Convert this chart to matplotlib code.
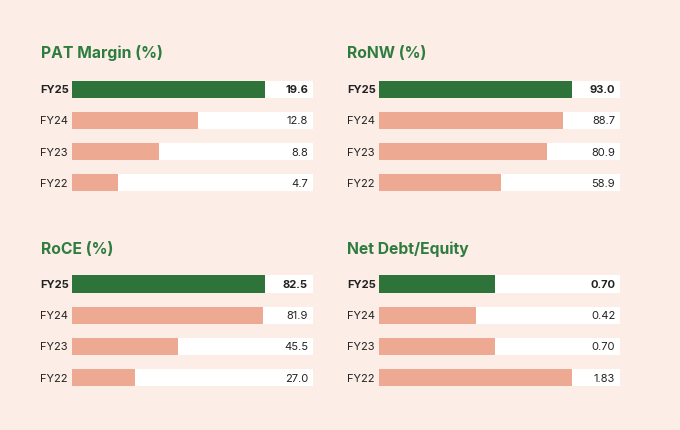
import matplotlib.pyplot as plt

years = ['FY25', 'FY24', 'FY23', 'FY22']

titles = ['PAT Margin (%)', 'RoNW (%)', 'RoCE (%)', 'Net Debt/Equity']
pat_margin = [19.6, 12.8, 8.8, 4.7]
ronw = [93.0, 88.7, 80.9, 58.9]
roce = [82.5, 81.9, 45.5, 27.0]
net_debt_equity = [0.70, 0.42, 0.70, 1.83]
labels = [['19.6', '12.8', '8.8', '4.7'],
          ['93.0', '88.7', '80.9', '58.9'],
          ['82.5', '81.9', '45.5', '27.0'],
          ['0.70', '0.42', '0.70', '1.83']]
series = [pat_margin, ronw, roce, net_debt_equity]
# axis floor per panel (the debt panel in the original does not start at zero)
floors = [0, 0, 0, -1.0]

BG = '#fcede6'
GREEN = '#2d733a'
SALMON = '#eda991'
TITLE = '#2e7d3f'
TEXT = '#222222'

plt.rcParams['font.family'] = ['Inter', 'DejaVu Sans']

W, H = 680, 431
fig = plt.figure(figsize=(W / 100, H / 100), dpi=100, facecolor=BG)

# panel boxes in pixels: left, right of track, top of first row slot
lefts = [72.3, 379.0, 72.3, 379.0]
rights = [312.7, 620.0, 312.7, 620.0]
tops = [74.6, 74.6, 269.4, 269.4]
title_y = [53, 53, 249, 249]
title_x = [40.7, 347.3, 40.7, 347.3]
slot = 31.2

for i in range(4):
    l, r, t = lefts[i], rights[i], tops[i]
    h = slot * 4
    ax = fig.add_axes([l / W, 1 - (t + h) / H, (r - l) / W, h / H])
    ax.set_facecolor('none')
    vals = series[i]
    lo = floors[i]
    hi = lo + (max(vals) - lo) * 1.25
    ax.set_xlim(lo, hi)
    ax.set_ylim(3.5, -0.5)
    ax.barh(range(4), [hi - lo] * 4, left=lo, height=0.555, color='white')
    colors = [GREEN] + [SALMON] * 3
    ax.barh(range(4), [v - lo for v in vals], left=lo, height=0.555, color=colors)
    for j in range(4):
        weight = 'bold' if j == 0 else 'normal'
        ax.text(-(l - title_x[i] + 0.3) / (r - l), j, years[j], transform=ax.get_yaxis_transform(),
                ha='left', va='center', fontsize=8, color=TEXT, fontweight=weight)
        ax.text(0.98, j, labels[i][j], transform=ax.get_yaxis_transform(),
                ha='right', va='center', fontsize=8, color=TEXT, fontweight=weight)
    ax.axis('off')
    fig.text(title_x[i] / W, 1 - title_y[i] / H, titles[i], ha='left', va='center',
             fontsize=11.3, fontweight='bold', color=TITLE)

fig.savefig('out.png', dpi=100, facecolor=BG)
